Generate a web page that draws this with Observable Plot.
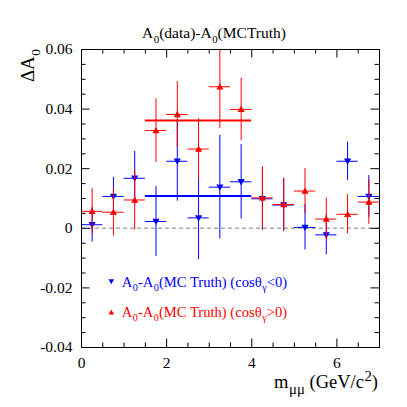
<!DOCTYPE html>
<html>
<head>
<meta charset="utf-8">
<script src="https://cdn.jsdelivr.net/npm/d3@7"></script>
<script src="https://cdn.jsdelivr.net/npm/@observablehq/plot@0.6"></script>
<style>
  html, body { margin: 0; padding: 0; background: #fff; }
  #chart svg { display: block; }
  #chart svg text { font-family: 'Liberation Serif', 'Times New Roman', serif; }
</style>
</head>
<body>
<div id="chart"></div>
<script>
// ---- data ----
const binCenters = [0.25, 0.75, 1.25, 1.75, 2.25, 2.75, 3.25, 3.75, 4.25, 4.75, 5.25, 5.75, 6.25, 6.75];
const binHalfWidth = 0.25;
const blueVals = [0.0012, 0.0107, 0.0168, 0.0023, 0.0225, 0.0035, 0.0138, 0.0156, 0.0099, 0.0078, 0.0003, -0.0022, 0.0225, 0.0107];
const blueErr  = [0.0058, 0.0064, 0.0090, 0.0117, 0.0134, 0.0140, 0.0174, 0.0125, 0.0106, 0.0089, 0.0076, 0.0067, 0.0064, 0.0070];
const redVals  = [0.0057, 0.0054, 0.0095, 0.0328, 0.0382, 0.0266, 0.0475, 0.0399, 0.0102, 0.0080, 0.0125, 0.0031, 0.0047, 0.0088];
const redErr   = [0.0076, 0.0080, 0.0101, 0.0107, 0.0110, 0.0102, 0.0140, 0.0105, 0.0104, 0.0088, 0.0075, 0.0070, 0.0066, 0.0075];
const avgRange = [1.5, 4.0];
const blueAvg = 0.0108;
const redAvg = 0.0362;
const xMajorTicks = [0, 2, 4, 6];
const yMajorTicks = [-0.04, -0.02, 0, 0.02, 0.04, 0.06];
const legendPos = [{x: 0.70, y: -0.0178, s: "blue"}, {x: 0.70, y: -0.0282, s: "red"}];

const BLUE = "#0000ff", RED = "#ff0000";
const xDomain = [0, 7], yDomain = [-0.04, 0.06];

const blue = binCenters.map((x, i) => ({x, y: blueVals[i], e: blueErr[i]}));
const red  = binCenters.map((x, i) => ({x, y: redVals[i], e: redErr[i]}));

// custom triangle symbols
const triUp = {draw(ctx, size) { const s = Math.sqrt(size / Math.PI); ctx.moveTo(0, -s); ctx.lineTo(s, s * 0.75); ctx.lineTo(-s, s * 0.75); ctx.closePath(); }};
const triDown = {draw(ctx, size) { const s = Math.sqrt(size / Math.PI); ctx.moveTo(0, s); ctx.lineTo(s, -s * 0.75); ctx.lineTo(-s, -s * 0.75); ctx.closePath(); }};

// minor ticks
const xMinor = d3.range(0, 7.001, 0.5);
const yMinor = d3.range(-0.04, 0.0601, 0.005).map(v => +v.toFixed(4));
const xTickLen = (L) => L / 42.57;     // px -> data units along x
const yTickLen = (L) => L / 2980;      // px -> data units along y
const isMajY = d => yMajorTicks.some(t => Math.abs(t - d) < 1e-6);

function errMarks(data, color, sym) {
  return [
    Plot.ruleX(data, {x: "x", y1: d => d.y - d.e, y2: d => d.y + d.e, stroke: color, strokeWidth: 1, clip: true}),
    Plot.ruleY(data, {y: "y", x1: d => d.x - binHalfWidth, x2: d => d.x + binHalfWidth, stroke: color, strokeWidth: 1, clip: true}),
    Plot.dot(data, {x: "x", y: "y", symbol: sym, r: 3.6, fill: color, stroke: "none"})
  ];
}

const font = "'Liberation Serif', 'Times New Roman', serif";

const plot = Plot.plot({
  width: 407,
  height: 407,
  marginLeft: 81,
  marginRight: 28,
  marginTop: 49,
  marginBottom: 60,
  style: {fontFamily: font, fontSize: "15px", color: "#000", background: "#fff"},
  x: {domain: xDomain},
  y: {domain: yDomain},
  marks: [
    Plot.ruleY([0], {stroke: "#aaaaaa", strokeWidth: 1.5, strokeDasharray: "4,3"}),
    // ticks: left/right (y)
    Plot.ruleY(yMinor, {y: d => d, x1: 0, x2: d => isMajY(d) ? xTickLen(8.5) : xTickLen(4.5), stroke: "#000"}),
    Plot.ruleY(yMinor, {y: d => d, x1: 7, x2: d => isMajY(d) ? 7 - xTickLen(8.5) : 7 - xTickLen(4.5), stroke: "#000"}),
    // ticks: bottom/top (x)
    Plot.ruleX(xMinor, {x: d => d, y1: -0.04, y2: d => xMajorTicks.includes(d) ? -0.04 + yTickLen(8.5) : -0.04 + yTickLen(4.5), stroke: "#000"}),
    Plot.ruleX(xMinor, {x: d => d, y1: 0.06, y2: d => xMajorTicks.includes(d) ? 0.06 - yTickLen(8.5) : 0.06 - yTickLen(4.5), stroke: "#000"}),
    ...errMarks(blue, BLUE, triDown),
    ...errMarks(red, RED, triUp),
    Plot.ruleY([redAvg], {x1: avgRange[0], x2: avgRange[1], stroke: RED, strokeWidth: 2}),
    Plot.ruleY([blueAvg], {x1: avgRange[0], x2: avgRange[1], stroke: BLUE, strokeWidth: 2}),
    // legend markers
    Plot.dot(legendPos, {x: "x", y: "y", symbol: d => d.s === "blue" ? triDown : triUp, r: 2.8, fill: d => d.s === "blue" ? BLUE : RED, stroke: "none"}),
    Plot.axisX({ticks: xMajorTicks, tickSize: 0, tickPadding: 9, tickFormat: d => String(d), label: null, fontSize: 15.5, fontFamily: font}),
    Plot.axisY({ticks: yMajorTicks, tickSize: 0, tickPadding: 9, tickFormat: d => d === 0 ? "0" : d.toFixed(2), label: null, fontSize: 15.5, fontFamily: font}),
    Plot.frame({stroke: "#000", strokeWidth: 1})
  ]
});

document.getElementById("chart").appendChild(plot);

// rich text helper (sub/superscripts)
const svg = d3.select(plot);
const xs = plot.scale("x"), ys = plot.scale("y");
function rich(x, y, parts, {size = 15, fill = "#000", anchor = "start", rotate = 0, sub = 0.7} = {}) {
  const t = svg.append("text")
    .attr("transform", `translate(${x},${y}) rotate(${rotate})`)
    .attr("text-anchor", anchor)
    .style("font-family", font)
    .attr("font-size", size)
    .attr("fill", fill);
  let shift = 0;
  for (const [str, kind] of parts) {
    const target = kind === "sub" ? 0.3 * size : kind === "sup" ? -0.4 * size : 0;
    const ts = t.append("tspan").text(str).attr("dy", target - shift);
    if (kind) ts.attr("font-size", size * sub).attr("dx", 0.5);
    shift = target;
  }
  return t;
}

// title
rich(214, 38, [["A"], ["0", "sub"], ["(data)-A"], ["0", "sub"], ["(MCTruth)"]], {size: 15.5, anchor: "middle"});
// y label
rich(34, 49, [["ΔA"], ["0", "sub"]], {size: 19, anchor: "end", rotate: -90});
// x label
rich(378, 388, [["m"], ["μμ", "sub"], [" (GeV/c"], ["2", "sup"], [")"]], {size: 18.5, anchor: "end", sub: 0.8});
// legend texts
rich(xs.apply(0.70) + 11, ys.apply(-0.0178) + 6, [["A"], ["0", "sub"], ["-A"], ["0", "sub"], ["(MC Truth) (cosθ"], ["γ", "sub"], ["<0)"]], {size: 14.6, fill: BLUE});
rich(xs.apply(0.70) + 11, ys.apply(-0.0282) + 5, [["A"], ["0", "sub"], ["-A"], ["0", "sub"], ["(MC Truth) (cosθ"], ["γ", "sub"], [">0)"]], {size: 14.6, fill: RED});
</script>
</body>
</html>
